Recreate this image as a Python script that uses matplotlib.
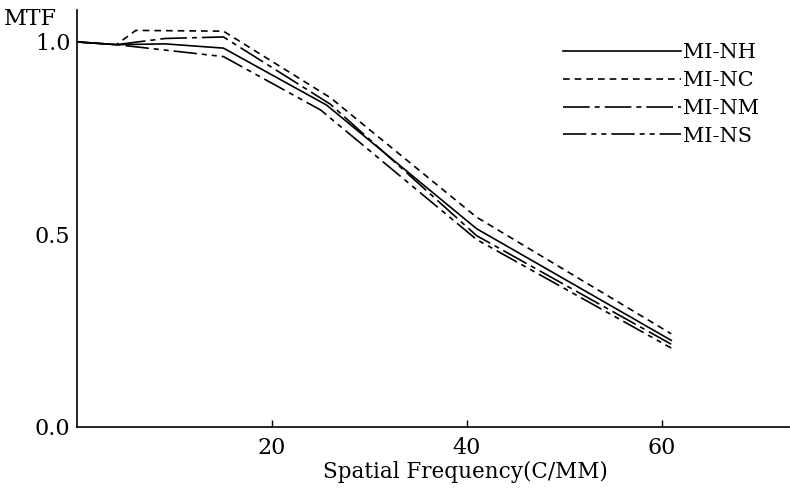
import matplotlib
matplotlib.use("Agg")
import matplotlib.pyplot as plt

plt.rcParams['font.family'] = ['DejaVu Serif']

# spatial frequency (C/MM) and MTF
x_nh = [0, 4, 9, 15, 25.6, 41, 61]
mtf_nh = [1.0, 0.993, 0.995, 0.984, 0.836, 0.515, 0.225]

x_nc = [0, 4, 6, 15, 26, 41, 61]
mtf_nc = [1.0, 0.993, 1.03, 1.028, 0.855, 0.545, 0.242]

x_nm = [0, 4, 9, 15, 26, 41, 61]
mtf_nm = [1.0, 0.993, 1.009, 1.013, 0.838, 0.497, 0.215]

x_ns = [0, 4, 15, 25, 41, 61]
mtf_ns = [1.0, 0.993, 0.962, 0.823, 0.487, 0.205]

labels = ["MI-NH", "MI-NC", "MI-NM", "MI-NS"]


def plot():
    fig = plt.figure(figsize=(7.9, 4.9), dpi=100)
    ax = fig.add_axes([0.098, 0.1286, 0.902, 0.851])
    lw = 1.2
    ax.plot(x_nh, mtf_nh, color='black', lw=lw, linestyle='-', label=labels[0])
    ax.plot(x_nc, mtf_nc, color='black', lw=lw, linestyle=(0, (4, 3)), label=labels[1])
    ax.plot(x_nm, mtf_nm, color='black', lw=lw, linestyle=(0, (16, 3, 3, 3)), label=labels[2])
    ax.plot(x_ns, mtf_ns, color='black', lw=lw, linestyle=(0, (14, 3, 3, 3, 3, 3)), label=labels[3])

    ax.set_xlim(0, 73.2)
    ax.set_ylim(0, 1.083)
    ax.spines['top'].set_visible(False)
    ax.spines['right'].set_visible(False)
    ax.spines['left'].set_linewidth(1.2)
    ax.spines['bottom'].set_linewidth(1.2)

    ax.set_xticks([20, 40, 60])
    ax.set_xticklabels(['20', '40', '60'])
    ax.set_yticks([0.0, 0.5, 1.0])
    ax.set_yticklabels(['0.0', '0.5', '1.0'])
    ax.tick_params(axis='x', direction='in', length=5, width=1, pad=7, labelsize=16)
    ax.tick_params(axis='y', length=0, pad=5, labelsize=16)

    ax.set_xlabel("Spatial Frequency(C/MM)", fontsize=15.5)
    ax.xaxis.set_label_coords(0.545, -0.082)
    fig.text(0.005, 0.984, "MTF", fontsize=16, va='top', ha='left')

    ax.legend(loc='upper left', bbox_to_anchor=(0.681, 0.92), frameon=False,
              fontsize=15, handlelength=5.7, handletextpad=0.08,
              labelspacing=0.42, borderpad=0, borderaxespad=0)

    fig.savefig("out.png", dpi=100)


plot()
